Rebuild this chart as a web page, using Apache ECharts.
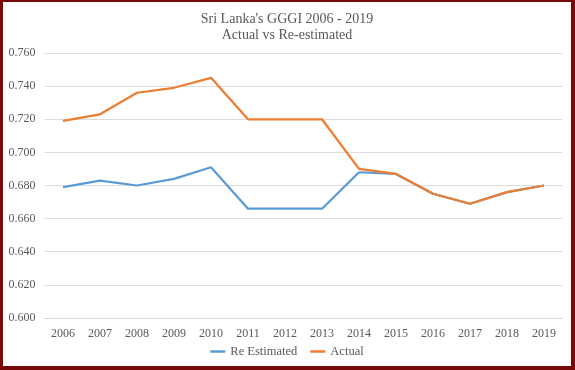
<!DOCTYPE html>
<html>
<head>
<meta charset="utf-8">
<script src="https://cdn.jsdelivr.net/npm/echarts@6/dist/echarts.min.js"></script>
<style>
html,body{margin:0;padding:0;background:#fff;}
#wrap{width:575px;height:370px;box-sizing:border-box;border-style:solid;border-color:#7a0a0a;border-width:2px 4px 4px 3px;}
#chart{width:568px;height:364px;}
</style>
</head>
<body>
<div id="wrap"><div id="chart"></div></div>
<script>
const years = ['2006','2007','2008','2009','2010','2011','2012','2013','2014','2015','2016','2017','2018','2019'];
const reEstimated = [0.679,0.683,0.680,0.684,0.691,0.666,0.666,0.666,0.688,0.687,0.675,0.669,0.676,0.680];
const actual = [0.719,0.723,0.736,0.739,0.745,0.720,0.720,0.720,0.690,0.687,0.675,0.669,0.676,0.680];
const titleLines = ["Sri Lanka's GGGI 2006 - 2019", 'Actual vs Re-estimated'];
const seriesNames = ['Re Estimated', 'Actual'];

const font = "'Liberation Serif', 'DejaVu Serif', serif";
const txt = '#595959';
const chart = echarts.init(document.getElementById('chart'));
chart.setOption({
  animation: false,
  textStyle: {fontFamily: font},
  title: {
    text: titleLines.join('\n'),
    left: 'center', top: 4,
    textStyle: {fontFamily: font, fontSize: 14, fontWeight: 'normal', color: txt, lineHeight: 16}
  },
  legend: {
    bottom: 3, left: 'center', icon: 'rect', itemWidth: 15, itemHeight: 2.5, itemGap: 13,
    textStyle: {fontFamily: font, fontSize: 12.5, color: txt},
    data: seriesNames
  },
  grid: {left: 41.5, right: 8.5, top: 51, bottom: 48, containLabel: false},
  xAxis: {
    type: 'category', data: years, boundaryGap: true,
    axisLine: {lineStyle: {color: '#d9d9d9', width: 1}},
    axisTick: {show: false},
    axisLabel: {color: txt, fontSize: 12, fontFamily: font, margin: 10}
  },
  yAxis: {
    type: 'value', min: 0.6, max: 0.76, interval: 0.02,
    axisLine: {show: false}, axisTick: {show: false},
    splitLine: {lineStyle: {color: '#dcdcdc', width: 1}},
    axisLabel: {color: txt, fontSize: 12, fontFamily: font, margin: 9, formatter: v => v.toFixed(3)}
  },
  series: [
    {name: seriesNames[0], type: 'line', data: reEstimated, symbol: 'none', lineStyle: {color: '#5b9bd5', width: 2.25}, itemStyle: {color: '#5b9bd5'}},
    {name: seriesNames[1], type: 'line', data: actual, symbol: 'none', lineStyle: {color: '#ed7d31', width: 2.25}, itemStyle: {color: '#ed7d31'}}
  ]
});
</script>
</body>
</html>
